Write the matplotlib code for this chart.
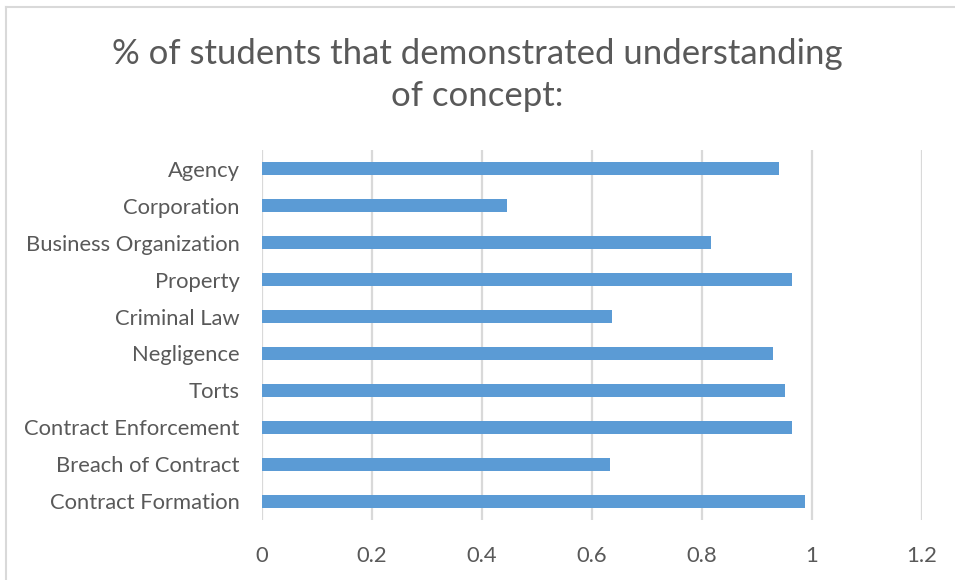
import numpy as np
import matplotlib.pyplot as plt
from matplotlib.lines import Line2D

# Share of students who showed they understood each concept
concepts = ['Contract Formation', 'Breach of Contract', 'Contract Enforcement',
            'Torts', 'Negligence', 'Criminal Law', 'Property',
            'Business Organization', 'Corporation', 'Agency']
share = [0.988, 0.633, 0.964, 0.952, 0.929, 0.636, 0.964, 0.816, 0.446, 0.940]
xticks = [0, 0.2, 0.4, 0.6, 0.8, 1, 1.2]
xticklabels = ['0', '0.2', '0.4', '0.6', '0.8', '1', '1.2']

plt.rcParams['font.family'] = ['Lato', 'DejaVu Sans']
text_color = '#595959'
bar_color = '#5b9bd5'
grid_color = '#d9d9d9'

W, H = 955, 580
fig = plt.figure(figsize=(W / 100, H / 100), dpi=100)
fig.patch.set_facecolor('white')

# plot area in pixels: x 262..921.7, y 150.5..519.5
left, right = 262 / W, 921.7 / W
top, bottom = 1 - 150.5 / H, 1 - 519.5 / H
ax = fig.add_axes([left, bottom, right - left, top - bottom])

y = np.arange(len(concepts))
ax.barh(y, share, height=0.355, color=bar_color, zorder=3)

ax.set_xlim(0, 1.2)
ax.set_ylim(-0.5, len(concepts) - 0.5)
ax.set_xticks(xticks)
ax.set_xticklabels(xticklabels)
ax.set_yticks(y)
ax.set_yticklabels(concepts)
ax.tick_params(axis='both', length=0, colors=text_color, labelsize=15.8)
ax.tick_params(axis='y', pad=16)
ax.tick_params(axis='x', pad=19)
ax.grid(axis='x', color=grid_color, linewidth=1.6, zorder=0)
for s in ax.spines.values():
    s.set_visible(False)

fig.text(0.5, 1 - 75 / H, '% of students that demonstrated understanding\nof concept:',
         ha='center', va='center', fontsize=25, color=text_color,
         linespacing=1.35)

# chart border (left and top edges)
fig.add_artist(Line2D([5.5 / W, 5.5 / W], [0, 1 - 6.5 / H], transform=fig.transFigure,
                      color='#d9d9d9', linewidth=1.5))
fig.add_artist(Line2D([5.5 / W, 1], [1 - 6.5 / H, 1 - 6.5 / H], transform=fig.transFigure,
                      color='#d9d9d9', linewidth=1.5))

fig.savefig('out.png', dpi=100, facecolor='white')
